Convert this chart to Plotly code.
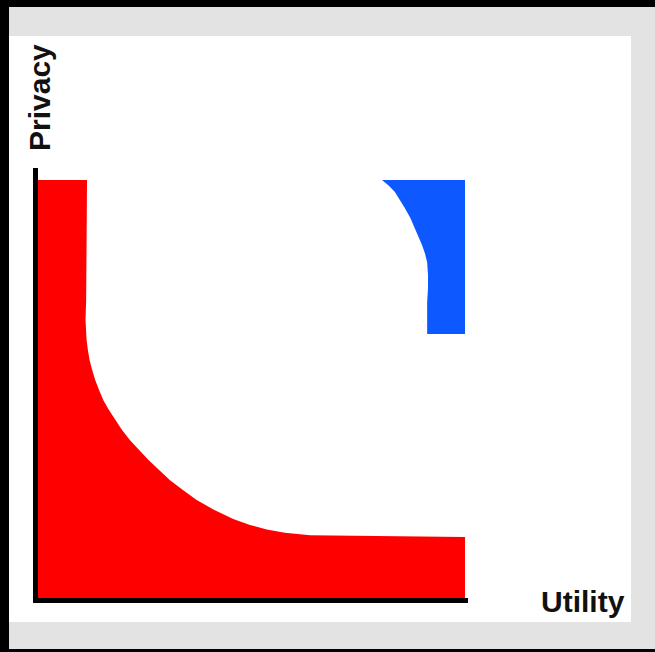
import plotly.graph_objects as go

# Red region (Utility, Privacy) outline (0-100 scale)
red_utility = [0, 0, 11.4, 11.3, 11.2, 11.05, 11.1, 11.3, 11.6, 12.0, 12.6, 13.3, 14.2, 15.2,
               16.5, 17.9, 19.5, 21.4, 23.5, 25.7, 28.1, 30.7, 33.7, 36.9, 40.9, 45.4, 49.3,
               53.2, 57.4, 63.3, 99.3, 99.3]
red_privacy = [0, 97.2, 97.2, 71.6, 69.3, 64.7, 62.3, 60.0, 57.7, 55.3, 53.0, 50.7, 48.4, 46.0,
               43.7, 41.4, 39.1, 36.7, 34.4, 32.1, 29.8, 27.4, 25.1, 22.8, 20.5, 18.4, 17.0,
               15.95, 15.2, 14.6, 14.2, 0]

# Blue region outline
blue_utility = [80.0, 81.6, 83.0, 84.2, 85.3, 86.6, 87.7, 88.6, 89.3, 90.0, 90.5, 90.7, 90.7, 90.5, 90.5, 99.3, 99.3]
blue_privacy = [97.2, 95.9, 94.4, 92.6, 90.7, 88.4, 86.0, 84.0, 82.1, 80.1, 78.1, 75.1, 72.1, 68.8, 61.4, 61.4, 97.2]

x_label = "Utility"
y_label = "Privacy"

fig = go.Figure()
fig.add_trace(go.Scatter(x=red_utility, y=red_privacy, mode="lines", fill="toself",
                         fillcolor="#ff0000", line=dict(width=0, color="#ff0000"),
                         hoverinfo="skip", showlegend=False))
fig.add_trace(go.Scatter(x=blue_utility, y=blue_privacy, mode="lines", fill="toself",
                         fillcolor="#0d59ff", line=dict(width=0, color="#0d59ff"),
                         hoverinfo="skip", showlegend=False))

axis_common = dict(showline=True, linecolor="#000000", linewidth=5, showgrid=False,
                   zeroline=False, showticklabels=False, ticks="", fixedrange=True)

fig.update_layout(
    width=655, height=652,
    margin=dict(l=38, r=187, t=168, b=54, pad=0),
    paper_bgcolor="#000000",
    plot_bgcolor="rgba(0,0,0,0)",
    xaxis=dict(range=[0, 100], **axis_common),
    yaxis=dict(range=[0, 100], **axis_common),
    shapes=[
        dict(type="rect", xref="paper", yref="paper", x0=-0.0674, x1=1.4465,
             y0=-0.1186, y1=1.3744, fillcolor="#e3e3e3", line=dict(width=0), layer="below"),
        dict(type="rect", xref="paper", yref="paper", x0=-0.0674, x1=1.3791,
             y0=-0.0558, y1=1.3070, fillcolor="#ffffff", line=dict(width=0), layer="below"),
    ],
    annotations=[
        dict(text=y_label, xref="paper", yref="paper", x=0.0023, y=1.1651,
             xanchor="center", yanchor="middle", textangle=-90, showarrow=False,
             font=dict(family="Liberation Sans, Arial", size=30, color="#111111", weight="bold")),
        dict(text=x_label, xref="paper", yref="paper", x=1.2686, y=-0.0070,
             xanchor="center", yanchor="middle", showarrow=False,
             font=dict(family="Liberation Sans, Arial", size=30, color="#111111", weight="bold")),
    ],
)

fig.write_html("out.html", config={"displayModeBar": False},
               post_script="document.body.style.margin='0';document.body.style.background='#000';document.body.style.overflow='hidden';")
